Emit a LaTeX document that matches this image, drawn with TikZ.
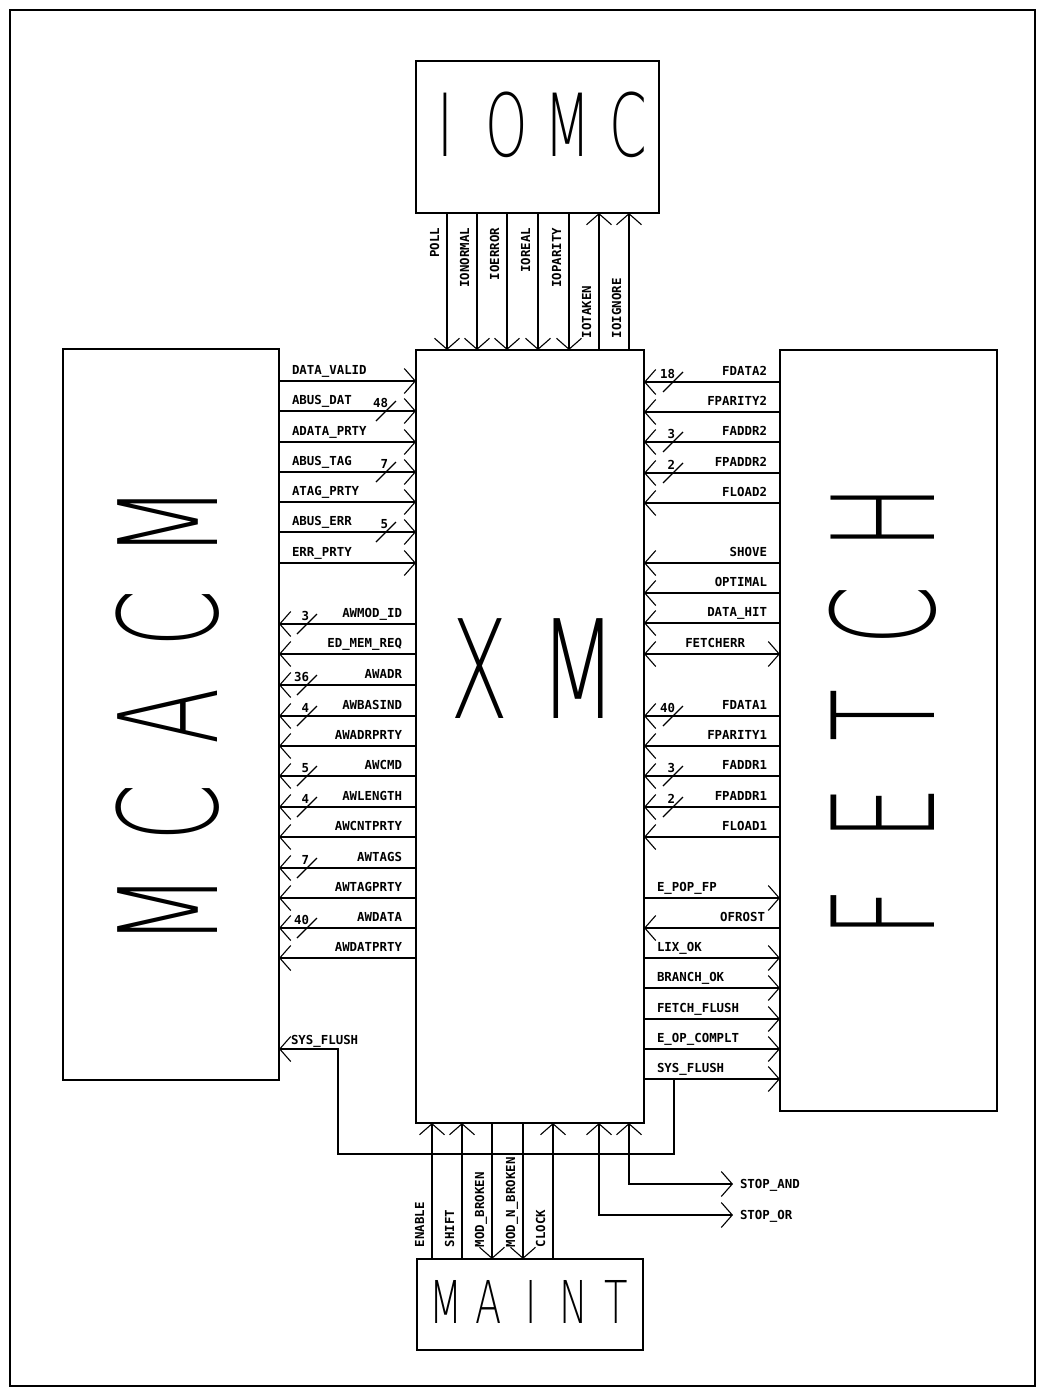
\documentclass[tikz,border=0pt]{standalone}
\usepackage{fontspec}
\usepackage{graphicx}
\usetikzlibrary{arrows.meta}
\newfontfamily\sigfont{DejaVu Sans Mono}
\newfontfamily\bigfont{DejaVuSans-ExtraLight.ttf}
\newcommand{\bigch}[3]{\makebox[#1][c]{\scalebox{#2}[1]{#3}}}
\tikzset{
  blk/.style={draw, line width=2.6pt, inner sep=0pt, outer sep=0pt},
  sig/.style={line width=1.1pt},
  lbl/.style={font=\sigfont\bfseries\fontsize{12.4}{12.4}\selectfont, inner sep=0pt, outer sep=0pt},
  big/.style={inner sep=0pt, outer sep=0pt},
  >={Straight Barb[length=11pt,width=25pt]},
}
\begin{document}
\begin{tikzpicture}[x=1pt,y=-1pt]
\useasboundingbox (0,0) rectangle (1046,1395);
\fill[white] (0,0) rectangle (1046,1395);
% frame
\node[blk, minimum width=1025pt, minimum height=1376pt] (frame) at (522.5,698) {};
% blocks
\node[blk, minimum width=243pt, minimum height=152pt] (iomc) at (537.5,137) {};
\node[blk, minimum width=228pt, minimum height=773pt] (xm) at (530,736.5) {};
\node[blk, minimum width=216pt, minimum height=731pt] (mcacm) at (171,714.5) {};
\node[blk, minimum width=217pt, minimum height=761pt] (fetch) at (888.5,730.5) {};
\node[blk, minimum width=226pt, minimum height=91pt] (maint) at (530,1304.5) {};
% big titles
\node[big, font=\bigfont\fontsize{87}{87}\selectfont] (iomcT) at (537,124.5)
  {\bigch{61pt}{0.62}{I}\bigch{61pt}{0.62}{O}\bigch{61pt}{0.62}{M}\bigch{61pt}{0.62}{C}};
\node[big, font=\bigfont\fontsize{137}{137}\selectfont] (xmT) at (529,669)
  {\bigch{99pt}{0.62}{X}\bigch{99pt}{0.66}{M}};
\node[big, rotate=90, font=\bigfont\fontsize{137}{137}\selectfont] (mcacmT) at (168,716)
  {\bigch{97pt}{0.6}{M}\bigch{97pt}{0.6}{C}\bigch{97pt}{0.6}{A}\bigch{97pt}{0.6}{C}\bigch{97pt}{0.6}{M}};
\node[big, rotate=90, font=\bigfont\fontsize{142}{142}\selectfont] (fetchT) at (883,715)
  {\bigch{99pt}{0.6}{F}\bigch{99pt}{0.6}{E}\bigch{99pt}{0.6}{T}\bigch{99pt}{0.6}{C}\bigch{99pt}{0.6}{H}};
\node[big, font=\bigfont\fontsize{59}{59}\selectfont] (maintT) at (531,1301.5)
  {\bigch{42.5pt}{0.65}{M}\bigch{42.5pt}{0.65}{A}\bigch{42.5pt}{0.65}{I}\bigch{42.5pt}{0.65}{N}\bigch{42.5pt}{0.65}{T}};
% ---- IOMC <-> XM
\foreach \x/\lab in {447/POLL,477/IONORMAL,507/IOERROR,538/IOREAL,569/IOPARITY}{
  \draw[sig,->] (iomc.south -| \x,0) -- (xm.north -| \x,0);
  \node[lbl, rotate=90, anchor=base east] (t\x) at (\x-8,228) {\lab};
}
\foreach \x/\lab in {599/IOTAKEN,629/IOIGNORE}{
  \draw[sig,->] (xm.north -| \x,0) -- (iomc.south -| \x,0);
  \node[lbl, rotate=90, anchor=base west] (t\x) at (\x-8,338) {\lab};
}
% ---- MCACM -> XM
\foreach \y/\lab in {381/DATA\_VALID,411/ABUS\_DAT,442/ADATA\_PRTY,472/ABUS\_TAG,502/ATAG\_PRTY,532/ABUS\_ERR,563/ERR\_PRTY}{
  \draw[sig,->] (mcacm.east |- 0,\y) -- (xm.west |- 0,\y);
  \node[lbl, anchor=base west] (la\y) at (292,\y-7) {\lab};
}
% ---- XM -> MCACM
\foreach \y/\lab in {624/AWMOD\_ID,654/ED\_MEM\_REQ,685/AWADR,716/AWBASIND,746/AWADRPRTY,776/AWCMD,807/AWLENGTH,837/AWCNTPRTY,868/AWTAGS,898/AWTAGPRTY,928/AWDATA,958/AWDATPRTY}{
  \draw[sig,->] (xm.west |- 0,\y) -- (mcacm.east |- 0,\y);
  \node[lbl, anchor=base east] (lb\y) at (402,\y-7) {\lab};
}
% ---- FETCH -> XM
\foreach \y/\lab in {382/FDATA2,412/FPARITY2,442/FADDR2,473/FPADDR2,503/FLOAD2,563/SHOVE,593/OPTIMAL,623/DATA\_HIT,716/FDATA1,746/FPARITY1,776/FADDR1,807/FPADDR1,837/FLOAD1}{
  \draw[sig,->] (fetch.west |- 0,\y) -- (xm.east |- 0,\y);
  \node[lbl, anchor=base east] (ra\y) at (767,\y-7) {\lab};
}
\draw[sig,<->] (xm.east |- 0,654) -- (fetch.west |- 0,654);
\node[lbl, anchor=base east] (ra654) at (745,647) {FETCHERR};
% ---- XM -> FETCH
\foreach \y/\lab in {898/E\_POP\_FP,958/LIX\_OK,988/BRANCH\_OK,1019/FETCH\_FLUSH,1049/E\_OP\_COMPLT,1079/SYS\_FLUSH}{
  \draw[sig,->] (xm.east |- 0,\y) -- (fetch.west |- 0,\y);
  \node[lbl, anchor=base west] (rb\y) at (657,\y-7) {\lab};
}
\draw[sig,->] (fetch.west |- 0,928) -- (xm.east |- 0,928);
\node[lbl, anchor=base east] (rb928) at (765,921) {OFROST};
% ---- SYS_FLUSH branch to MCACM
\coordinate (sfb) at (674,1079);
\draw[sig,->] (sfb) -- (674,1154) -- (338,1154) -- (338,1049) -- (mcacm.east |- 0,1049);
\node[lbl, anchor=base west] (lsf) at (291,1044) {SYS\_FLUSH};
% ---- bus width marks
\foreach \cx/\y/\n in {386/411/48,386/472/7,386/532/5,
  307/624/3,307/685/36,307/716/4,307/776/5,307/807/4,307/868/7,307/928/40,
  673/382/18,673/442/3,673/473/2,673/716/40,673/776/3,673/807/2}{
  \draw[sig] (\cx-10,\y+10) -- (\cx+10,\y-10);
  \node[lbl, anchor=base east] (b\cx\y) at (\cx+2,\y-3.5) {\n};
}
% ---- MAINT <-> XM
\foreach \x/\lab in {432/ENABLE,462/SHIFT,553/CLOCK}{
  \draw[sig,->] (maint.north -| \x,0) -- (xm.south -| \x,0);
  \node[lbl, rotate=90, anchor=base west] (m\x) at (\x-8,1247) {\lab};
}
\foreach \x/\lab in {492/MOD\_BROKEN,523/MOD\_N\_BROKEN}{
  \draw[sig,->] (xm.south -| \x,0) -- (maint.north -| \x,0);
  \node[lbl, rotate=90, anchor=base west] (m\x) at (\x-8,1247) {\lab};
}
% ---- STOP signals
\coordinate (sand) at (733,1184);
\coordinate (sor) at (733,1215);
\draw[sig,<->] (xm.south -| 629,0) -- (629,1184) -- (sand);
\draw[sig,<->] (xm.south -| 599,0) -- (599,1215) -- (sor);
\node[lbl, anchor=base west] (lsand) at (740,1188.5) {STOP\_AND};
\node[lbl, anchor=base west] (lsor) at (740,1219.5) {STOP\_OR};
\end{tikzpicture}
\end{document}
